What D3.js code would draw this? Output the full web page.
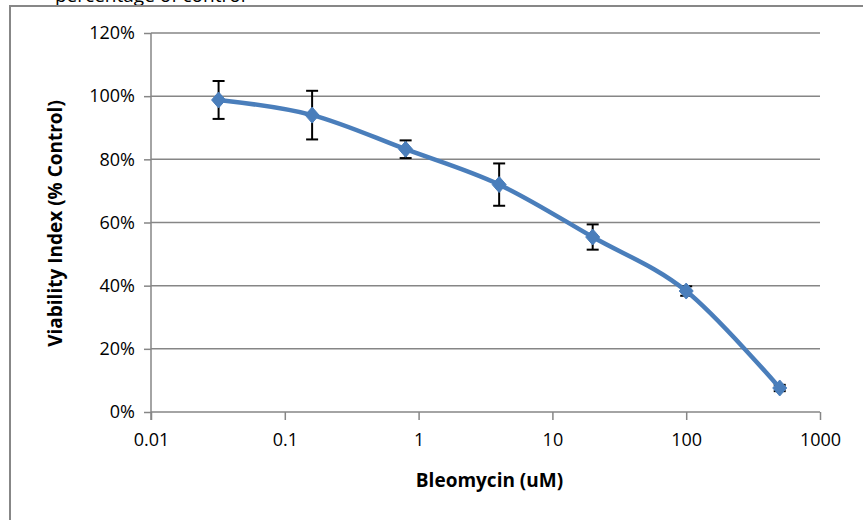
<!DOCTYPE html>
<html>
<head>
<meta charset="utf-8">
<script src="https://cdn.jsdelivr.net/npm/d3@7"></script>
<style>
  body { margin: 0; background: #fff; }
</style>
</head>
<body>
<div id="chart"></div>
<script>
// dose in uM, viability in % of control, error = +/- half range
const dose = [0.032, 0.16, 0.8, 4, 20, 100, 500];
const viability = [98.8, 94.0, 83.2, 72.0, 55.4, 38.3, 7.6];
const err = [6, 7.7, 2.8, 6.7, 4, 1.5, 1];
const xTicks = [0.01, 0.1, 1, 10, 100, 1000];
const yTicks = [0, 20, 40, 60, 80, 100, 120];

const data = dose.map((d, i) => ({ dose: d, v: viability[i], e: err[i] }));

const W = 863, H = 520;
const margin = { top: 33, right: 43, bottom: 108, left: 151 },
  width = W - margin.left - margin.right,
  height = H - margin.top - margin.bottom;

const font = "'Open Sans', Lato, sans-serif";

const root = d3.select("#chart")
  .append("svg")
  .attr("width", W)
  .attr("height", H)
  .style("font-family", font);

// cut-off text above the frame
root.append("text")
  .attr("x", 55)
  .attr("y", 2)
  .attr("font-size", 19)
  .attr("fill", "#000")
  .text("percentage of control");

// outer frame (only top and left visible)
root.append("path")
  .attr("d", `M10,${H + 5} L10,6 L${W + 5},6`)
  .attr("fill", "none")
  .attr("stroke", "#878787")
  .attr("stroke-width", 2);

const svg = root.append("g")
  .attr("transform", `translate(${margin.left},${margin.top})`);

const x = d3.scaleLog()
  .domain([0.01, 1000])
  .range([0, width]);

const y = d3.scaleLinear()
  .domain([0, 120])
  .range([height, 0]);

// horizontal grid
svg.append("g")
  .selectAll("line")
  .data(yTicks.filter(t => t > 0))
  .join("line")
  .attr("x1", 0)
  .attr("x2", width)
  .attr("y1", d => y(d))
  .attr("y2", d => y(d))
  .attr("stroke", "#868686")
  .attr("stroke-width", 1.5);

// Y axis
let yAxis = svg.append("g")
  .call(d3.axisLeft(y).tickValues(yTicks).tickSize(7).tickPadding(9).tickFormat(d => d + "%"));
yAxis.select(".domain").attr("stroke", "#868686").attr("stroke-width", 1.5)
  .attr("d", `M0,0V${height + 8}`);
yAxis.selectAll(".tick line").attr("stroke", "#868686").attr("stroke-width", 1.5);
yAxis.selectAll("text").attr("font-size", 18).attr("fill", "#000").attr("font-family", font);

// X axis
let xAxis = svg.append("g")
  .attr("transform", `translate(0,${height})`)
  .call(d3.axisBottom(x).tickValues(xTicks).tickSize(8).tickPadding(13).tickFormat(d => String(d)));
xAxis.select(".domain").attr("stroke", "#868686").attr("stroke-width", 1.5)
  .attr("d", `M0,0H${width}`);
xAxis.selectAll(".tick line").attr("stroke", "#868686").attr("stroke-width", 1.5);
xAxis.selectAll("text").attr("font-size", 18).attr("fill", "#000").attr("font-family", font);

// axis titles
svg.append("text")
  .attr("x", width / 2 + 4)
  .attr("y", height + 75)
  .attr("text-anchor", "middle")
  .attr("font-size", 19)
  .attr("font-weight", "bold")
  .attr("fill", "#000")
  .text("Bleomycin (uM)");

svg.append("text")
  .attr("transform", `translate(-89,${height / 2 + 1}) rotate(-90)`)
  .attr("text-anchor", "middle")
  .attr("font-size", 19)
  .attr("font-weight", "bold")
  .attr("fill", "#000")
  .text("Viability Index (% Control)");

// error bars
const eb = svg.append("g").attr("stroke", "#000").attr("stroke-width", 2);
eb.selectAll(".stem")
  .data(data)
  .join("line")
  .attr("x1", d => x(d.dose))
  .attr("x2", d => x(d.dose))
  .attr("y1", d => y(d.v + d.e))
  .attr("y2", d => y(d.v - d.e));
eb.selectAll(".capT")
  .data(data)
  .join("line")
  .attr("x1", d => x(d.dose) - 6)
  .attr("x2", d => x(d.dose) + 6)
  .attr("y1", d => y(d.v + d.e))
  .attr("y2", d => y(d.v + d.e));
eb.selectAll(".capB")
  .data(data)
  .join("line")
  .attr("x1", d => x(d.dose) - 6)
  .attr("x2", d => x(d.dose) + 6)
  .attr("y1", d => y(d.v - d.e))
  .attr("y2", d => y(d.v - d.e));

// smoothed line
const line = d3.line()
  .x(d => x(d.dose))
  .y(d => y(d.v))
  .curve(d3.curveCardinal.tension(0));

svg.append("path")
  .datum(data)
  .attr("d", line)
  .attr("fill", "none")
  .attr("stroke", "#4A7EBB")
  .attr("stroke-width", 4.5)
  .attr("stroke-linejoin", "round");

// diamond markers
svg.append("g")
  .selectAll("path")
  .data(data)
  .join("path")
  .attr("transform", d => `translate(${x(d.dose)},${y(d.v)})`)
  .attr("d", "M0,-8L7,0L0,8L-7,0Z")
  .attr("fill", "#4A7EBB")
  .attr("stroke", "#4A7EBB")
  .attr("stroke-width", 1);
</script>
</body>
</html>
